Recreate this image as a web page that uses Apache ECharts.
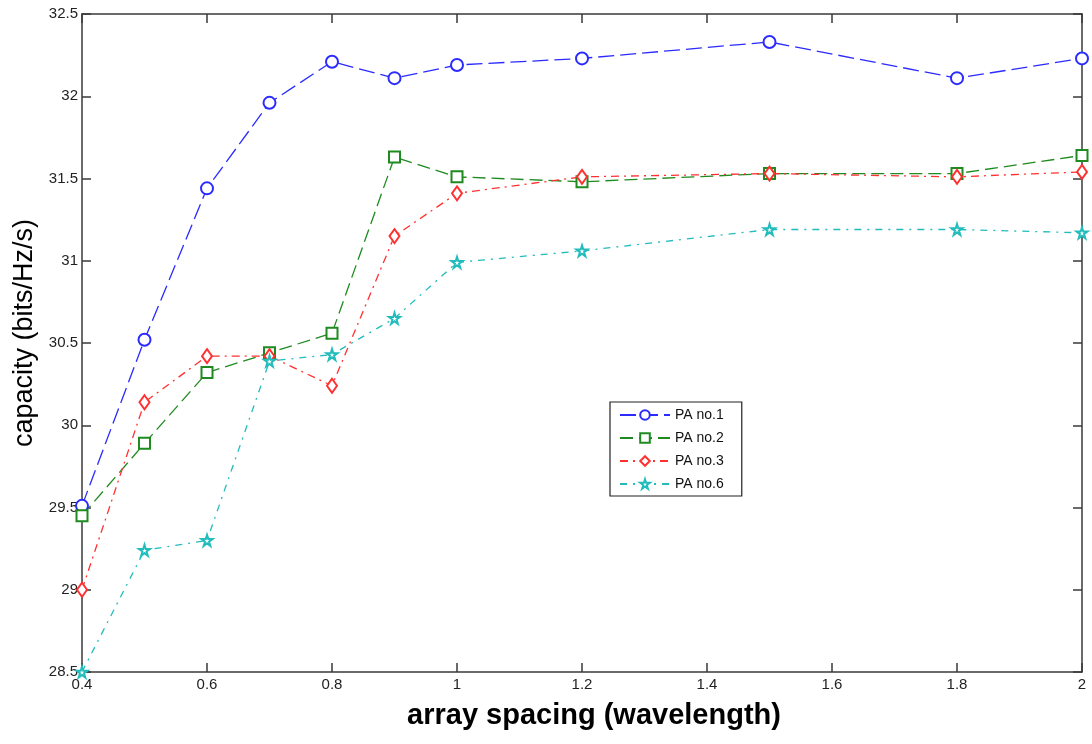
<!DOCTYPE html>
<html>
<head>
<meta charset="utf-8">
<script src="https://cdn.jsdelivr.net/npm/echarts@6/dist/echarts.min.js"></script>
<style>
html,body{margin:0;padding:0;background:#fff;}
#chart{width:1092px;height:744px;}
</style>
</head>
<body>
<div id="chart"></div>
<script>
// array spacing (wavelength)
const spacing = [0.4, 0.5, 0.6, 0.7, 0.8, 0.9, 1.0, 1.2, 1.5, 1.8, 2.0];
const pa1 = [29.51, 30.52, 31.44, 31.96, 32.21, 32.11, 32.19, 32.23, 32.33, 32.11, 32.23];
const pa2 = [29.45, 29.89, 30.32, 30.44, 30.56, 31.63, 31.51, 31.48, 31.53, 31.53, 31.64];
const pa3 = [29.00, 30.14, 30.42, 30.42, 30.24, 31.15, 31.41, 31.51, 31.53, 31.51, 31.54];
const pa6 = [28.50, 29.24, 29.30, 30.39, 30.43, 30.65, 30.99, 31.06, 31.19, 31.19, 31.17];
const seriesNames = ['PA no.1', 'PA no.2', 'PA no.3', 'PA no.6'];

const pairs = (ys) => spacing.map((x, i) => [x, ys[i]]);
const STAR = 'emptyPath://M50,2 L61,37 L98,37 L68,58 L79,94 L50,72 L21,94 L32,58 L2,37 L39,37 Z';
const font = '"Liberation Sans", Arial, sans-serif';

const chart = echarts.init(document.getElementById('chart'), null, {renderer: 'canvas'});
const axisLineStyle = {color: '#3a3a3a', width: 1.5};
chart.setOption({
  animation: false,
  backgroundColor: '#ffffff',
  grid: {left: 82, right: 10, top: 14, bottom: 72},
  xAxis: [{
    type: 'value', min: 0.4, max: 2, interval: 0.2, position: 'bottom',
    axisLine: {show: true, lineStyle: axisLineStyle},
    axisTick: {show: true, inside: true, length: 9, lineStyle: axisLineStyle},
    axisLabel: {color: '#222', fontFamily: font, fontSize: 15, margin: 5,
      formatter: v => String(Math.round(v * 10) / 10)},
    splitLine: {show: false},
    name: 'array spacing (wavelength)', nameLocation: 'middle', nameGap: 29,
    nameTextStyle: {color: '#000', fontFamily: font, fontSize: 29, fontWeight: 'bold', padding: [0, 0, 0, 24]}
  }, {
    type: 'value', min: 0.4, max: 2, interval: 0.2, position: 'top',
    axisLine: {show: true, lineStyle: axisLineStyle},
    axisTick: {show: true, inside: true, length: 9, lineStyle: axisLineStyle},
    axisLabel: {show: false}, splitLine: {show: false}
  }],
  yAxis: [{
    type: 'value', min: 28.5, max: 32.5, interval: 0.5, position: 'left',
    axisLine: {show: true, lineStyle: axisLineStyle},
    axisTick: {show: true, inside: true, length: 9, lineStyle: axisLineStyle},
    axisLabel: {color: '#222', fontFamily: font, fontSize: 15, margin: 4},
    splitLine: {show: false},
    name: 'capacity (bits/Hz/s)', nameLocation: 'middle', nameGap: 42,
    nameTextStyle: {color: '#000', fontFamily: font, fontSize: 27, padding: [0, 0, 0, 20]}
  }, {
    type: 'value', min: 28.5, max: 32.5, interval: 0.5, position: 'right',
    axisLine: {show: true, lineStyle: axisLineStyle},
    axisTick: {show: true, inside: true, length: 9, lineStyle: axisLineStyle},
    axisLabel: {show: false}, splitLine: {show: false}
  }],
  legend: {
    orient: 'vertical', left: 610, top: 402,
    data: seriesNames,
    backgroundColor: '#fff', borderColor: '#222', borderWidth: 1.2,
    padding: [6, 18, 5, 9], itemGap: 9, itemWidth: 50, itemHeight: 12,
    textStyle: {fontFamily: font, fontSize: 14, color: '#111'}
  },
  series: [
    {name: seriesNames[0], type: 'line', data: pairs(pa1), symbol: 'emptyCircle', symbolSize: 12,
     itemStyle: {color: '#2b2bff', borderWidth: 1.4},
     lineStyle: {color: '#2b2bff', width: 1.3, type: [16, 6]}},
    {name: seriesNames[1], type: 'line', data: pairs(pa2), symbol: 'emptyRect', symbolSize: 11,
     itemStyle: {color: '#1f8a1f', borderWidth: 1.4},
     lineStyle: {color: '#1f8a1f', width: 1.3, type: [13, 6]}},
    {name: seriesNames[2], type: 'line', data: pairs(pa3), symbol: 'emptyDiamond', symbolSize: [10, 14],
     itemStyle: {color: '#ff3030', borderWidth: 1.4},
     lineStyle: {color: '#ff3030', width: 1.3, type: [8, 5, 2, 5]}},
    {name: seriesNames[3], type: 'line', data: pairs(pa6), symbol: STAR, symbolSize: 11,
     itemStyle: {color: '#22bcbc', borderWidth: 1.4},
     lineStyle: {color: '#22bcbc', width: 1.3, type: [7, 6, 2, 6]}}
  ]
});
</script>
</body>
</html>
